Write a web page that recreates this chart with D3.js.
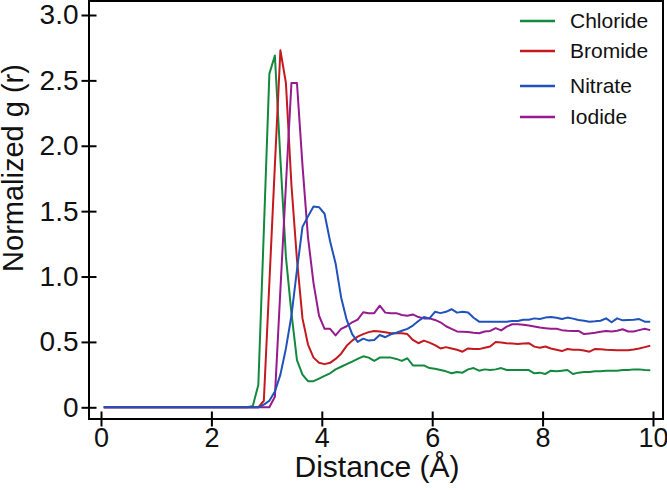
<!DOCTYPE html>
<html>
<head>
<meta charset="utf-8">
<script src="https://cdn.jsdelivr.net/npm/d3@7"></script>
<style>
  body { margin: 0; background: #fff; }
  svg text { font-family: "Liberation Sans", Arial, sans-serif; fill: #111; }
</style>
</head>
<body>
<svg id="chart" width="667" height="490"></svg>
<script>
const width = 667;
const height = 490;

// distance bins (Å), centred on 0.05 ... 9.95
const distance = [
  0.05,0.15,0.25,0.35,0.45,0.55,0.65,0.75,0.85,0.95,
  1.05,1.15,1.25,1.35,1.45,1.55,1.65,1.75,1.85,1.95,
  2.05,2.15,2.25,2.35,2.45,2.55,2.65,2.75,2.85,2.95,
  3.05,3.15,3.25,3.35,3.45,3.55,3.65,3.75,3.85,3.95,
  4.05,4.15,4.25,4.35,4.45,4.55,4.65,4.75,4.85,4.95,
  5.05,5.15,5.25,5.35,5.45,5.55,5.65,5.75,5.85,5.95,
  6.05,6.15,6.25,6.35,6.45,6.55,6.65,6.75,6.85,6.95,
  7.05,7.15,7.25,7.35,7.45,7.55,7.65,7.75,7.85,7.95,
  8.05,8.15,8.25,8.35,8.45,8.55,8.65,8.75,8.85,8.95,
  9.05,9.15,9.25,9.35,9.45,9.55,9.65,9.75,9.85,9.95
];

const chloride = [
  0,0,0,0,0,0,0,0,0,0,
  0,0,0,0,0,0,0,0,0,0,
  0,0,0,0,0,0,0,0.01,0.17,1.35,
  2.55,2.69,1.9,1.15,0.72,0.36,0.25,0.2,0.2,0.22,
  0.24,0.26,0.29,0.31,0.33,0.35,0.37,0.39,0.38,0.355,
  0.38,0.38,0.38,0.37,0.355,0.375,0.32,0.32,0.32,0.3,
  0.295,0.285,0.275,0.26,0.27,0.265,0.29,0.3,0.28,0.29,
  0.285,0.29,0.3,0.285,0.285,0.285,0.285,0.285,0.26,0.265,
  0.255,0.28,0.275,0.28,0.285,0.255,0.265,0.27,0.27,0.275,
  0.275,0.28,0.28,0.28,0.285,0.285,0.29,0.29,0.285,0.283
];

const bromide = [
  0,0,0,0,0,0,0,0,0,0,
  0,0,0,0,0,0,0,0,0,0,
  0,0,0,0,0,0,0,0,0,0.05,
  0.95,1.85,2.73,2.48,1.7,1.13,0.68,0.48,0.38,0.34,
  0.33,0.34,0.37,0.41,0.47,0.51,0.54,0.56,0.575,0.584,
  0.58,0.574,0.566,0.566,0.566,0.56,0.515,0.49,0.51,0.495,
  0.475,0.45,0.46,0.45,0.44,0.425,0.45,0.445,0.445,0.455,
  0.465,0.5,0.495,0.49,0.487,0.484,0.487,0.49,0.464,0.456,
  0.465,0.45,0.44,0.43,0.446,0.44,0.44,0.435,0.425,0.446,
  0.443,0.44,0.438,0.436,0.436,0.436,0.442,0.45,0.46,0.47
];

const nitrate = [
  0,0,0,0,0,0,0,0,0,0,
  0,0,0,0,0,0,0,0,0,0,
  0,0,0,0,0,0,0,0,0,0.02,
  0.05,0.12,0.25,0.45,0.7,1.05,1.38,1.46,1.535,1.53,
  1.48,1.27,1.1,0.84,0.67,0.56,0.5,0.525,0.51,0.515,
  0.553,0.536,0.558,0.57,0.585,0.6,0.625,0.66,0.69,0.68,
  0.73,0.72,0.73,0.75,0.724,0.73,0.725,0.685,0.655,0.655,
  0.655,0.655,0.655,0.655,0.66,0.66,0.67,0.67,0.68,0.675,
  0.686,0.69,0.685,0.675,0.686,0.678,0.668,0.662,0.655,0.658,
  0.662,0.68,0.65,0.68,0.665,0.668,0.67,0.675,0.655,0.655
];

const iodide = [
  0,0,0,0,0,0,0,0,0,0,
  0,0,0,0,0,0,0,0,0,0,
  0,0,0,0,0,0,0,0,0,0,
  0,0.08,0.9,1.7,2.48,2.48,1.85,1.3,0.95,0.7,
  0.6,0.6,0.55,0.6,0.62,0.65,0.67,0.727,0.72,0.72,
  0.777,0.724,0.72,0.72,0.706,0.7,0.71,0.69,0.68,0.68,
  0.668,0.65,0.62,0.6,0.58,0.578,0.575,0.57,0.566,0.58,
  0.584,0.605,0.588,0.617,0.635,0.635,0.632,0.625,0.618,0.61,
  0.605,0.6,0.6,0.59,0.585,0.584,0.584,0.56,0.565,0.57,
  0.578,0.584,0.58,0.585,0.597,0.58,0.58,0.59,0.6,0.59
];

const seriesNames = ["Chloride", "Bromide", "Nitrate", "Iodide"];
const seriesValues = [chloride, bromide, nitrate, iodide];
const seriesColors = ["#13893d", "#c4191e", "#1f52bb", "#961b8e"];
// nitrate sits on top along the zero baseline
const drawOrder = [0, 1, 3, 2];

const xTicks = [0, 2, 4, 6, 8, 10];
const yTicks = [0, 0.5, 1.0, 1.5, 2.0, 2.5, 3.0];

const svg = d3.select("#chart");

const frame = { left: 89, right: 663, top: 1, bottom: 419 };

const x = d3.scaleLinear().domain([0, 10]).range([101, 653]);
const y = d3.scaleLinear().domain([0, 3]).range([407.3, 15]);

// lines
const line = d3.line()
    .x((d, i) => x(distance[i]))
    .y(d => y(d));

svg.append("g")
    .selectAll("path")
    .data(drawOrder)
    .join("path")
    .attr("fill", "none")
    .attr("stroke", k => seriesColors[k])
    .attr("stroke-width", 2)
    .attr("stroke-linejoin", "round")
    .attr("d", k => line(seriesValues[k]));

// frame
svg.append("rect")
    .attr("x", frame.left)
    .attr("y", frame.top)
    .attr("width", frame.right - frame.left)
    .attr("height", frame.bottom - frame.top)
    .attr("fill", "none")
    .attr("stroke", "#000")
    .attr("stroke-width", 2);

// axes, ticks cross the axis line
const yAxis = svg.append("g")
    .attr("transform", `translate(${frame.left},0)`)
    .call(d3.axisLeft(y).tickValues(yTicks)
        .tickFormat(d => d === 0 ? "0" : d3.format(".1f")(d))
        .tickSize(7.5).tickPadding(3));
yAxis.select(".domain").remove();
yAxis.selectAll(".tick line").attr("x1", 7.5).attr("stroke-width", 2);
yAxis.selectAll(".tick text").style("font-size", "28px");

const xAxis = svg.append("g")
    .attr("transform", `translate(0,${frame.bottom})`)
    .call(d3.axisBottom(x).tickValues(xTicks).tickSize(7.5).tickPadding(1));
xAxis.select(".domain").remove();
xAxis.selectAll(".tick line").attr("y1", -7.5).attr("stroke-width", 2);
xAxis.selectAll(".tick text").style("font-size", "27px");

svg.selectAll(".tick text").attr("fill", "#111");

// axis titles
svg.append("text")
    .attr("x", 377)
    .attr("y", 477)
    .attr("text-anchor", "middle")
    .style("font-size", "30px")
    .text("Distance (Å)");

svg.append("text")
    .attr("transform", "translate(23,168) rotate(-90)")
    .attr("text-anchor", "middle")
    .style("font-size", "29px")
    .text("Normalized g (r)");

// legend
const legendY = [21, 51, 86, 117];
const legend = svg.append("g")
    .selectAll("g")
    .data(seriesNames)
    .join("g")
    .attr("transform", (d, i) => `translate(0,${legendY[i]})`);

legend.append("line")
    .attr("x1", 520).attr("x2", 555)
    .attr("stroke", (d, i) => seriesColors[i])
    .attr("stroke-width", 2.5);

legend.append("text")
    .attr("x", 570)
    .attr("dy", "0.35em")
    .style("font-size", "21px")
    .text(d => d);
</script>
</body>
</html>
